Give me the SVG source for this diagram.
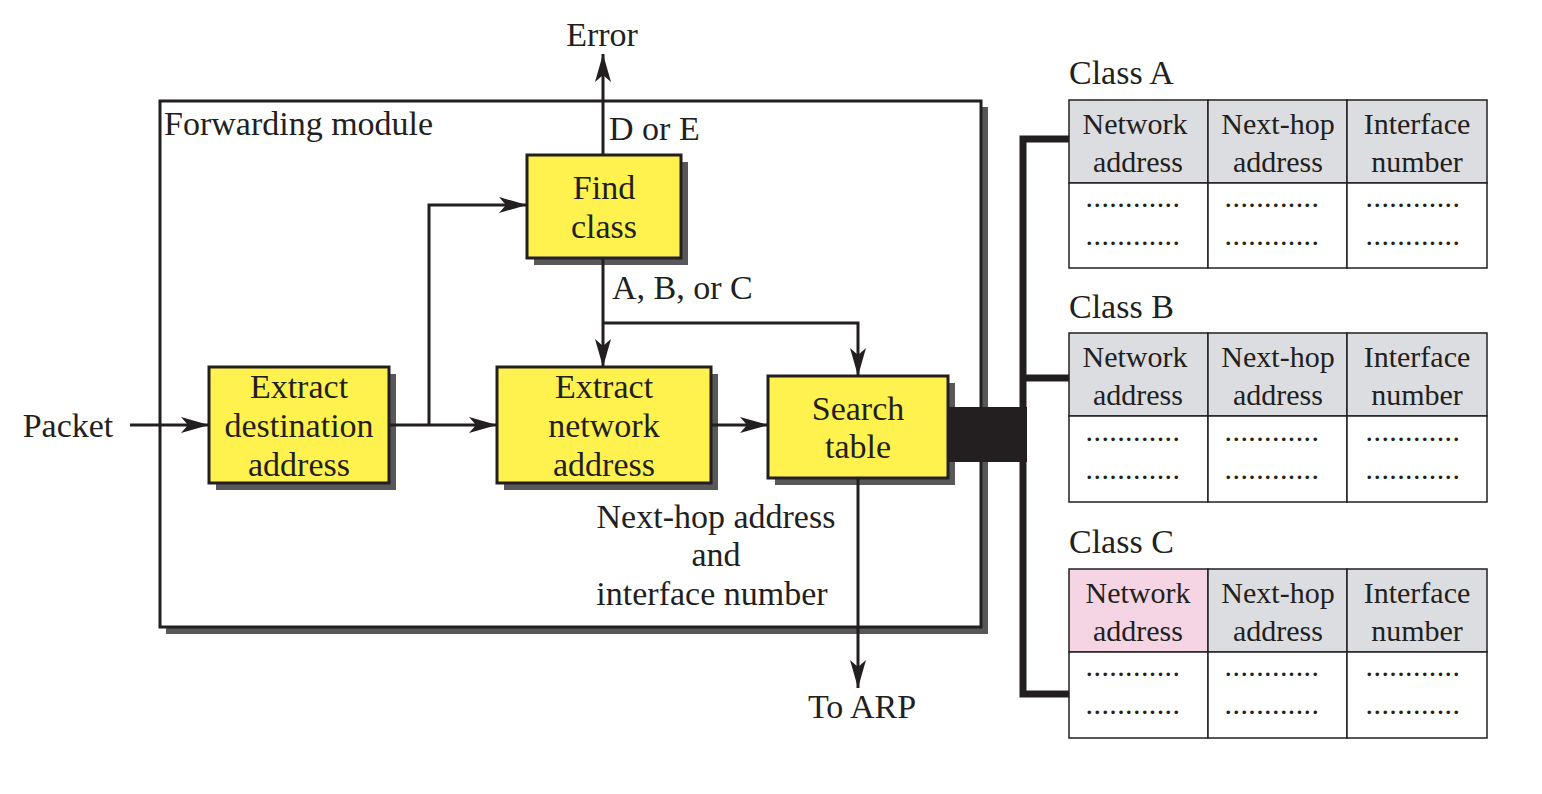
<svg xmlns="http://www.w3.org/2000/svg" width="1542" height="794" viewBox="0 0 1542 794">
<defs>
<marker id="ah" viewBox="0 0 28 16" refX="28" refY="8" markerWidth="28" markerHeight="16" markerUnits="userSpaceOnUse" orient="auto">
<path d="M0,0 L28,8 L0,16 L7,8 Z" fill="#231f20"/>
</marker>
</defs>
<style>
text{font-family:"Liberation Serif","Times New Roman",serif;fill:#231f20}
.t{font-size:34px}
.c{text-anchor:middle}
.box{fill:#fff24f;stroke:#231f20;stroke-width:3}
.sh{fill:#58585a}
.ln{fill:none;stroke:#231f20;stroke-width:3}
.tb{font-size:30px;text-anchor:middle}
.dt{font-size:30px;text-anchor:middle;letter-spacing:0.4px}
.hd{fill:#dcdde0;stroke:#231f20;stroke-width:1.5}
.bd{fill:#fff;stroke:#231f20;stroke-width:1.5}
</style>
<rect width="1542" height="794" fill="#fff"/>

<g id="forwarding-module">
<rect x="166" y="107" width="822" height="527" class="sh"/>
<rect x="160" y="101" width="821" height="526" fill="#fff" stroke="#231f20" stroke-width="3"/>
<text x="164" y="135" class="t">Forwarding module</text>
</g>

<g id="find-class">
<rect x="534" y="162" width="154" height="103" class="sh"/>
<rect x="527" y="155" width="154" height="103" class="box"/>
<text x="604" y="199" class="t c">Find</text>
<text x="604" y="238" class="t c">class</text>
</g>

<g id="extract-destination">
<rect x="216" y="374" width="180" height="116" class="sh"/>
<rect x="209" y="367" width="180" height="116" class="box"/>
<text x="299" y="398" class="t c">Extract</text>
<text x="299" y="437" class="t c">destination</text>
<text x="299" y="476" class="t c">address</text>
</g>

<g id="extract-network">
<rect x="504" y="374" width="214" height="116" class="sh"/>
<rect x="497" y="367" width="214" height="116" class="box"/>
<text x="604" y="398" class="t c">Extract</text>
<text x="604" y="437" class="t c">network</text>
<text x="604" y="476" class="t c">address</text>
</g>

<g id="search-table">
<rect x="775" y="383" width="180" height="102" class="sh"/>
<rect x="768" y="376" width="180" height="102" class="box"/>
<text x="858" y="420" class="t c">Search</text>
<text x="858" y="458" class="t c">table</text>
</g>

<g id="class-a">
<text x="1069" y="84" class="t">Class A</text>
<rect x="1069" y="100" width="139" height="83" class="hd"/>
<rect x="1208" y="100" width="139" height="83" class="hd"/>
<rect x="1347" y="100" width="140" height="83" class="hd"/>
<rect x="1069" y="183" width="139" height="85" class="bd"/>
<rect x="1208" y="183" width="139" height="85" class="bd"/>
<rect x="1347" y="183" width="140" height="85" class="bd"/>
<text x="1135" y="134" class="tb">Network</text><text x="1138" y="172" class="tb">address</text>
<text x="1278" y="134" class="tb">Next-hop</text><text x="1278" y="172" class="tb">address</text>
<text x="1417" y="134" class="tb">Interface</text><text x="1417" y="172" class="tb">number</text>
<text x="1133" y="207" class="dt">............</text><text x="1133" y="245" class="dt">............</text>
<text x="1272" y="207" class="dt">............</text><text x="1272" y="245" class="dt">............</text>
<text x="1413" y="207" class="dt">............</text><text x="1413" y="245" class="dt">............</text>
</g>

<g id="class-b">
<text x="1069" y="318" class="t">Class B</text>
<rect x="1069" y="333" width="139" height="83" class="hd"/>
<rect x="1208" y="333" width="139" height="83" class="hd"/>
<rect x="1347" y="333" width="140" height="83" class="hd"/>
<rect x="1069" y="416" width="139" height="86" class="bd"/>
<rect x="1208" y="416" width="139" height="86" class="bd"/>
<rect x="1347" y="416" width="140" height="86" class="bd"/>
<text x="1135" y="367" class="tb">Network</text><text x="1138" y="405" class="tb">address</text>
<text x="1278" y="367" class="tb">Next-hop</text><text x="1278" y="405" class="tb">address</text>
<text x="1417" y="367" class="tb">Interface</text><text x="1417" y="405" class="tb">number</text>
<text x="1133" y="441" class="dt">............</text><text x="1133" y="479" class="dt">............</text>
<text x="1272" y="441" class="dt">............</text><text x="1272" y="479" class="dt">............</text>
<text x="1413" y="441" class="dt">............</text><text x="1413" y="479" class="dt">............</text>
</g>

<g id="class-c">
<text x="1069" y="553" class="t">Class C</text>
<rect x="1069" y="569" width="139" height="83" fill="#f5d4e4" stroke="#231f20" stroke-width="1.5"/>
<rect x="1208" y="569" width="139" height="83" class="hd"/>
<rect x="1347" y="569" width="140" height="83" class="hd"/>
<rect x="1069" y="652" width="139" height="86" class="bd"/>
<rect x="1208" y="652" width="139" height="86" class="bd"/>
<rect x="1347" y="652" width="140" height="86" class="bd"/>
<text x="1138" y="603" class="tb">Network</text><text x="1138" y="641" class="tb">address</text>
<text x="1278" y="603" class="tb">Next-hop</text><text x="1278" y="641" class="tb">address</text>
<text x="1417" y="603" class="tb">Interface</text><text x="1417" y="641" class="tb">number</text>
<text x="1133" y="676" class="dt">............</text><text x="1133" y="714" class="dt">............</text>
<text x="1272" y="676" class="dt">............</text><text x="1272" y="714" class="dt">............</text>
<text x="1413" y="676" class="dt">............</text><text x="1413" y="714" class="dt">............</text>
</g>

<g id="connectors">
<path class="ln" d="M130,425 H209" marker-end="url(#ah)"/>
<path class="ln" d="M389,425 H497" marker-end="url(#ah)"/>
<path class="ln" d="M429,425 V205 H527" marker-end="url(#ah)"/>
<path class="ln" d="M711,425 H768" marker-end="url(#ah)"/>
<path class="ln" d="M603,155 V54" marker-end="url(#ah)"/>
<path class="ln" d="M603,258 V367" marker-end="url(#ah)"/>
<path class="ln" d="M603,323 H858 V376" marker-end="url(#ah)"/>
<path class="ln" d="M858,478 V688" marker-end="url(#ah)"/>
<rect x="949" y="407" width="78" height="55" fill="#231f20"/>
<path d="M1069,139 H1023 V694 H1069 M1023,378 H1069" fill="none" stroke="#231f20" stroke-width="7"/>
<text x="602" y="46" class="t c">Error</text>
<text x="609" y="140" class="t">D or E</text>
<text x="612" y="299" class="t">A, B, or C</text>
<text x="862" y="718" class="t c">To ARP</text>
<text x="68" y="437" class="t c">Packet</text>
<text x="716" y="528" class="t c">Next-hop address</text>
<text x="716" y="566" class="t c">and</text>
<text x="712" y="605" class="t c">interface number</text>
</g>
</svg>
